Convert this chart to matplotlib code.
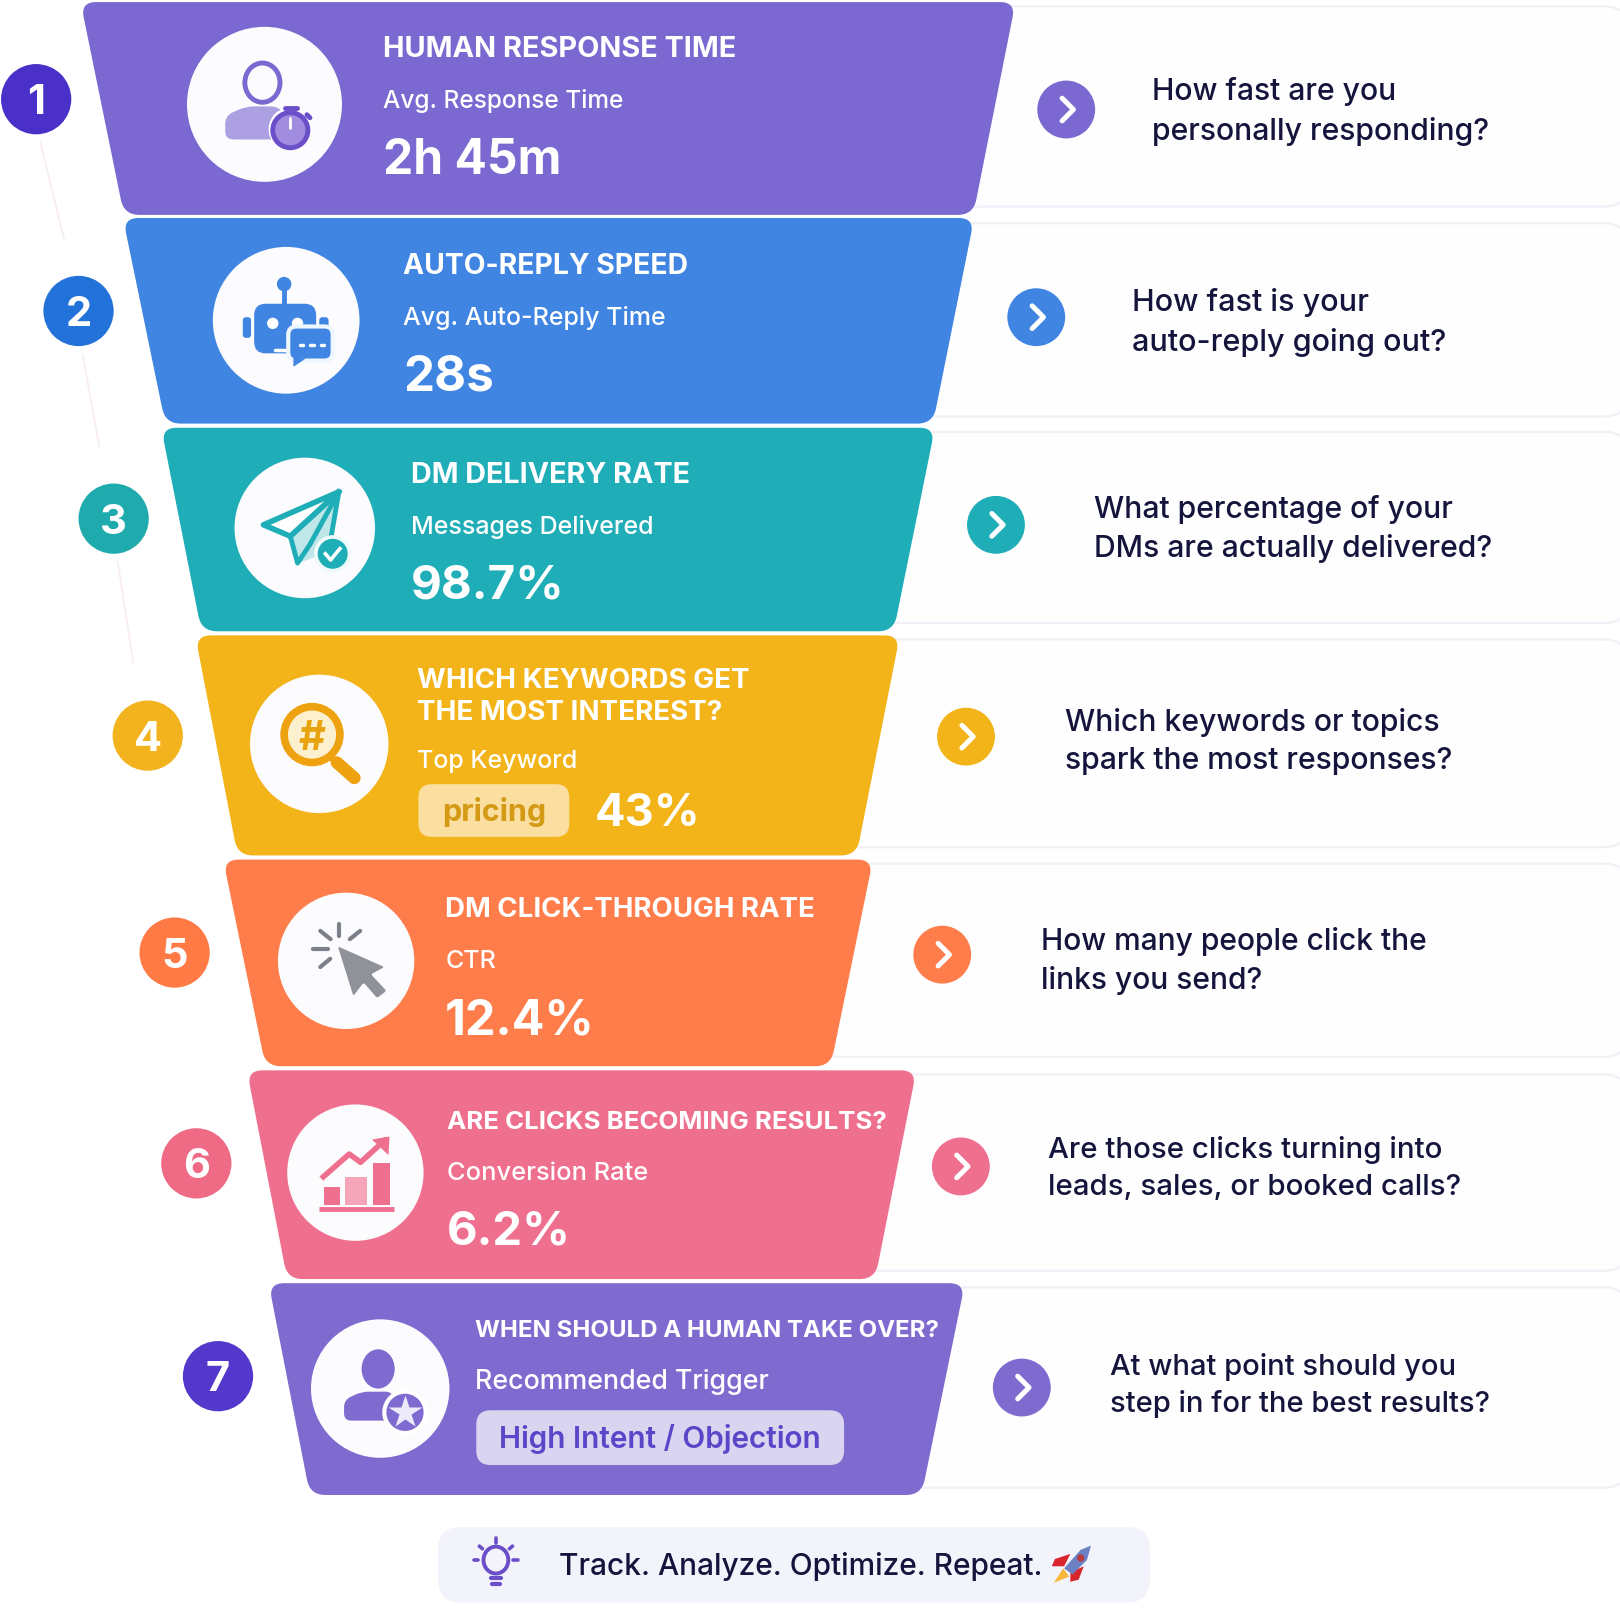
import matplotlib

matplotlib.use("Agg")

import matplotlib.pyplot as plt
import numpy as np
from matplotlib.patches import Circle, Ellipse, FancyBboxPatch, PathPatch, Polygon
from matplotlib.path import Path

plt.rcParams["font.family"] = ["Inter", "Noto Sans", "DejaVu Sans"]

titles = [
    "HUMAN RESPONSE TIME",
    "AUTO-REPLY SPEED",
    "DM DELIVERY RATE",
    "WHICH KEYWORDS GET\nTHE MOST INTEREST?",
    "DM CLICK-THROUGH RATE",
    "ARE CLICKS BECOMING RESULTS?",
    "WHEN SHOULD A HUMAN TAKE OVER?",
]
subtitles = [
    "Avg. Response Time",
    "Avg. Auto-Reply Time",
    "Messages Delivered",
    "Top Keyword",
    "CTR",
    "Conversion Rate",
    "Recommended Trigger",
]
values = ["2h 45m", "28s", "98.7%", "43%", "12.4%", "6.2%", ""]
pills = ["", "", "", "pricing", "", "", "High Intent / Objection"]
questions = [
    "How fast are you\npersonally responding?",
    "How fast is your\nauto-reply going out?",
    "What percentage of your\nDMs are actually delivered?",
    "Which keywords or topics\nspark the most responses?",
    "How many people click the\nlinks you send?",
    "Are those clicks turning into\nleads, sales, or booked calls?",
    "At what point should you\nstep in for the best results?",
]
footer_text = "Track. Analyze. Optimize. Repeat."

band_colors = ["#7B68D0", "#4085E2", "#1FAEB8", "#F3B41A", "#FF7D4B", "#EE6F8E", "#7F6BCF"]
badge_colors = ["#4A30C8", "#2272D9", "#1FAAAE", "#F3B31E", "#FF7A45", "#EE6A85", "#5438CC"]

# layout, in pixels of a 1568 wide canvas
band_y = [(2, 208), (211, 410), (414, 611), (615, 828), (832, 1032), (1036, 1238), (1242, 1447)]
band_top_x = [(78, 983), (119, 943), (156, 905), (189, 871), (216, 845), (239, 887), (260, 934)]
band_bottom_x = [(120, 942), (160, 903), (195, 865), (230, 829), (257, 804), (278, 847), (300, 892)]
card_y = [(6, 200), (216, 403), (418, 603), (619, 820), (836, 1023), (1040, 1230), (1246, 1440)]
badge_xy = [(35, 96), (76, 301), (110, 502), (143, 712), (169, 922), (190, 1126), (211, 1332)]
icon_xyr = [(256, 101, 75), (277, 310, 71), (295, 511, 68), (309, 720, 67), (335, 930, 66), (344, 1135, 66), (368, 1344, 67)]
chevron_xy = [(1032, 106), (1003, 307), (964, 508), (935, 713), (912, 924), (930, 1129), (989, 1343)]
text_x = [371, 390, 398, 404, 431, 433, 460]
title_y = [48, 258, 460, 675, 881, 1086, 1288]
title_size = [20.8, 20.4, 20.7, 20, 19.9, 18.6, 17.3]
sub_y = [98, 308, 510, 737, 931, 1136, 1338]
sub_size = [17.6, 18, 18, 18, 18, 18.3, 19.3]
value_y = [156, 365, 568, 788, 989, 1193, 0]
value_size = [34.5, 35.5, 34.3, 32.5, 35, 34, 34]
question_x = [1115, 1096, 1059, 1031, 1008, 1014, 1074]
question_y = [108, 312, 512, 718, 930, 1131, 1341]
question_size = [21.7, 22, 21.7, 21.7, 21.6, 21.2, 21]

fig = plt.figure(figsize=(16.2, 16.2), dpi=100)
ax = fig.add_axes([0, 0, 1, 1])
ax.set_xlim(0, 1568)
ax.set_ylim(1568, 0)
ax.axis("off")


def rounded_poly(pts, r):
    """Closed path through pts with the corners rounded off."""
    pts = np.array(pts, dtype=float)
    n = len(pts)
    verts, codes = [], []
    for i in range(n):
        p, prev, nxt = pts[i], pts[i - 1], pts[(i + 1) % n]
        a = p + (prev - p) / np.linalg.norm(prev - p) * r
        b = p + (nxt - p) / np.linalg.norm(nxt - p) * r
        verts += [a, p, b]
        codes += [Path.MOVETO if i == 0 else Path.LINETO, Path.CURVE3, Path.CURVE3]
    verts.append(verts[0])
    codes.append(Path.CLOSEPOLY)
    return Path(verts, codes)


def round_box(x0, y0, x1, y1, r, **kw):
    p = FancyBboxPatch((x0 + r, y0 + r), x1 - x0 - 2 * r, y1 - y0 - 2 * r,
                       boxstyle=f"round,pad={r},rounding_size={r}", **kw)
    ax.add_patch(p)
    return p


def line(xs, ys, color, lw, z=6, cap="round"):
    ax.plot(xs, ys, color=color, lw=lw, solid_capstyle=cap, zorder=z)


def poly(pts, color, z=6, **kw):
    ax.add_patch(Polygon(pts, closed=True, facecolor=color, zorder=z, **kw))


def icon_human(color):
    ax.add_patch(Ellipse((254, 80), 34, 38, facecolor="none", edgecolor=color, lw=3.5, zorder=6))
    ax.add_patch(PathPatch(rounded_poly([(218, 135), (218, 112), (238, 103), (270, 103), (285, 125), (270, 135)], 8),
                           facecolor="#AC9FE2", edgecolor="none", zorder=6))
    ax.add_patch(Circle((281, 125), 21, facecolor="white", edgecolor="none", zorder=7))
    ax.add_patch(Circle((281, 126), 17, facecolor="#A08DE0", edgecolor="#6A4FC8", lw=3.5, zorder=8))
    line([281, 281], [114, 124], "white", 2, z=9)
    line([276, 287], [105, 105], "#6A4FC8", 3.5, z=8)
    line([297, 300], [111, 114], "#6A4FC8", 3.5, z=8)


def icon_robot(color):
    ax.add_patch(Circle((275, 275), 7, facecolor=color, zorder=6))
    line([275, 275], [280, 296], color, 3.5)
    round_box(246, 294, 306, 342, 11, facecolor=color, edgecolor="none", zorder=6)
    round_box(235, 307, 243, 327, 3, facecolor=color, edgecolor="none", zorder=6)
    round_box(309, 307, 318, 325, 3, facecolor=color, edgecolor="none", zorder=6)
    ax.add_patch(Circle((264, 313), 5.5, facecolor="white", zorder=7))
    ax.add_patch(Circle((288, 313), 5.5, facecolor="white", zorder=7))
    line([266, 280], [339, 339], "white", 2.5, z=7)
    round_box(279, 316, 322, 349, 8, facecolor=color, edgecolor="#EEF6FE", lw=3, zorder=8)
    poly([(284, 346), (284, 355), (296, 347)], color, z=8)
    for x in (292, 302, 312):
        line([x - 1.5, x + 1.5], [334, 334], "white", 2.5, z=9)


def icon_plane(color):
    poly([(328, 476), (281, 519), (289, 545), (318, 534)], "#BFE6E8", z=6)
    poly([(328, 476), (255, 508), (281, 519)], "white", z=6, edgecolor=color, lw=4, joinstyle="round")
    ax.plot([328, 281, 288, 300, 328], [476, 519, 545, 527, 476], color=color, lw=3.5, zorder=7)
    ax.plot([328, 318], [476, 534], color=color, lw=3.5, zorder=7)
    ax.add_patch(Circle((322, 536), 18, facecolor="#EFFAFA", zorder=8))
    ax.add_patch(Circle((322, 536), 14.5, facecolor=color, zorder=9))
    ax.plot([315, 320, 329], [536, 542, 531], color="white", lw=2.6, zorder=10)


def icon_magnifier(color):
    line([326, 343], [738, 753], "#EFA210", 9)
    line([315, 323], [729, 736], "#EFA210", 4)
    ax.add_patch(Circle((302, 711), 27, facecolor="#FDF0CE", edgecolor="#EFA210", lw=5.5, zorder=7))
    ax.text(302, 711, "#", color="#E9A30E", fontsize=30, fontweight="bold", ha="center", va="center_baseline", zorder=8)


def icon_cursor(color):
    gray = "#8F9299"
    ax.add_patch(PathPatch(rounded_poly([(327, 916), (372, 936), (359, 943), (374, 959), (365, 966), (352, 951), (342, 964)], 2),
                           facecolor=gray, edgecolor="none", zorder=6))
    for xs, ys in [((328.6, 328.6), (894, 906)), ((310, 320), (901, 909)), ((348.6, 338.6), (901, 909)),
                   ((303, 317), (918.4, 918.4)), ((310, 319.6), (936, 928))]:
        line(xs, ys, "#7C8189", 3)


def icon_chart(color):
    ax.bar([321.5, 344.5, 369.5], [17, 27, 40], width=[16, 21, 16], bottom=[1149, 1139, 1126],
           color=[color, "#F4A6B8", color], zorder=6)
    line([309, 381], [1170, 1170], color, 3.5, cap="butt")
    ax.plot([313, 338, 349, 372], [1139, 1117, 1125, 1104], color=color, lw=4, zorder=7)
    poly([(377, 1100), (360, 1103), (376, 1118)], color, z=7)


def icon_person_star(color):
    ax.add_patch(Ellipse((366, 1325), 32, 38, facecolor=color, zorder=6))
    ax.add_patch(PathPatch(rounded_poly([(333, 1375), (333, 1355), (350, 1347), (380, 1347), (385, 1375)], 7),
                           facecolor=color, edgecolor="none", zorder=6))
    ax.add_patch(Circle((392, 1367), 22, facecolor="white", zorder=7))
    ax.add_patch(Circle((392, 1367), 18, facecolor=color, zorder=8))
    ax.plot([392], [1367], marker="*", markersize=25, color="#EDEAFA", mec="none", zorder=9)


def icon_bulb():
    c = "#6A4FC8"
    ax.add_patch(Ellipse((480, 1510), 24, 26, facecolor="none", edgecolor=c, lw=2.8, zorder=6))
    line([475, 485], [1527, 1527], c, 3)
    line([476, 484], [1533, 1533], c, 3)
    for a in (-90, -40, -140, 0, 180):
        ca, sa = np.cos(np.radians(a)), np.sin(np.radians(a))
        line([480 + 17 * ca, 480 + 21 * ca], [1510 + 17 * sa, 1510 + 21 * sa], c, 2.6)


def icon_rocket():
    poly([(1056, 1496), (1046, 1500), (1030, 1518), (1038, 1524), (1052, 1510)], "#6C80C4", z=7)
    poly([(1036, 1504), (1021, 1509), (1018, 1516), (1030, 1516)], "#D8262C", z=6)
    poly([(1049, 1516), (1044, 1529), (1036, 1531), (1036, 1522)], "#D8262C", z=6)
    poly([(1029, 1518), (1020, 1532), (1035, 1526)], "#F6B93B", z=6)
    ax.add_patch(Circle((1046, 1508), 3.5, facecolor="#B83A3A", zorder=8))


icon_funcs = [icon_human, icon_robot, icon_plane, icon_magnifier, icon_cursor, icon_chart, icon_person_star]
ink = "#14143C"

# question cards sit behind the funnel and run off the right edge
for i, (y0, y1) in enumerate(card_y):
    round_box(band_bottom_x[i][1] - 100, y0, 1575, y1, 22, facecolor="#FEFEFF", edgecolor="#F2F0F7", lw=1.6, zorder=1)

# faint connectors between the number badges
for (x0, y0), (x1, y1) in zip(badge_xy[:3], badge_xy[1:4]):
    ax.plot([x0 + 4, x1 - 14], [y0 + 42, y1 - 70], color="#F7EDF3", lw=1.3, zorder=1)

for i, color in enumerate(band_colors):
    y0, y1 = band_y[i]
    pts = [(band_top_x[i][0], y0), (band_top_x[i][1], y0), (band_bottom_x[i][1], y1), (band_bottom_x[i][0], y1)]
    ax.add_patch(PathPatch(rounded_poly(pts, 15), facecolor=color, edgecolor="none", zorder=3))

    x, y = badge_xy[i]
    ax.add_patch(Circle((x, y), 34, facecolor=badge_colors[i], zorder=3))
    ax.text(x, y, str(i + 1), color="white", fontsize=30, fontweight="bold", ha="center", va="center_baseline", zorder=4)

    x, y, r = icon_xyr[i]
    ax.add_patch(Circle((x, y), r, facecolor="#FCFBFE", zorder=4))
    icon_funcs[i](color)

    ax.text(text_x[i], title_y[i], titles[i], color="white", fontsize=title_size[i], fontweight="bold",
            ha="left", va="center", linespacing=1.3, zorder=5)
    ax.text(text_x[i], sub_y[i], subtitles[i], color="white", fontsize=sub_size[i], fontweight="medium",
            ha="left", va="center", zorder=5)

    value_x = text_x[i] + (172 if pills[i] == "pricing" else 0)
    if values[i]:
        ax.text(value_x, value_y[i], values[i], color="white", fontsize=value_size[i], fontweight="bold",
                ha="left", va="center", zorder=5)

    x, y = chevron_xy[i]
    ax.add_patch(Circle((x, y), 28, facecolor=color, zorder=3))
    ax.plot([x - 4, x + 7, x - 4], [y - 11, y, y + 11], color="white", lw=3.6, solid_capstyle="round",
            solid_joinstyle="round", zorder=4)
    ax.text(question_x[i], question_y[i], questions[i], color=ink, fontsize=question_size[i], fontweight="medium",
            ha="left", va="center", linespacing=1.45, zorder=5)

# keyword and trigger pills
round_box(405, 759, 551, 810, 13, facecolor="#FBDFA0", edgecolor="none", zorder=5)
ax.text(478, 786, pills[3], color="#D59A15", fontsize=22, fontweight="bold", ha="center", va="center", zorder=6)
round_box(461, 1365, 817, 1418, 14, facecolor="#D9D5F0", edgecolor="none", zorder=5)
ax.text(639, 1393, pills[6], color="#5B45C8", fontsize=21.4, fontweight="semibold", ha="center", va="center", zorder=6)

# footer strip
round_box(424, 1478, 1113, 1551, 22, facecolor="#F3F3FC", edgecolor="none", zorder=2)
icon_bulb()
ax.text(541, 1516, footer_text, color=ink, fontsize=21.5, fontweight="medium", ha="left", va="center", zorder=5)
icon_rocket()

fig.savefig("out.png", dpi=100)
plt.close(fig)
